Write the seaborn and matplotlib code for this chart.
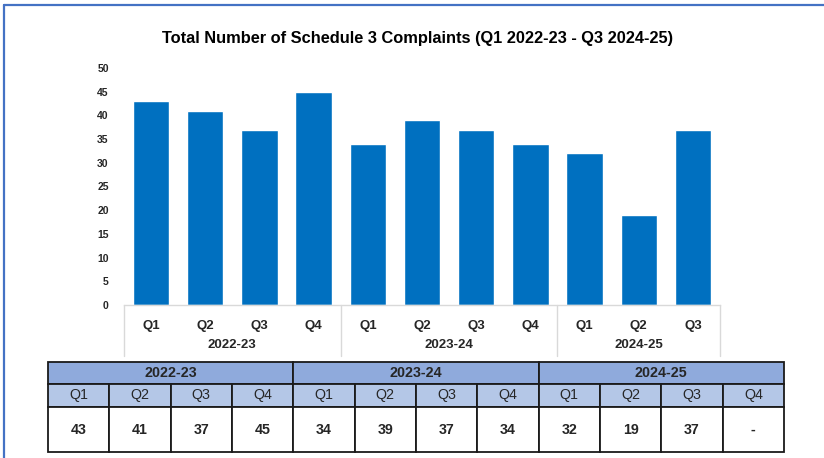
import matplotlib
matplotlib.use('Agg')
import matplotlib.pyplot as plt
import matplotlib.transforms as mtransforms
from matplotlib.patches import Rectangle
from matplotlib.lines import Line2D
import seaborn as sns
import pandas as pd

# data
years = ['2022-23', '2023-24', '2024-25']
quarters = ['Q1', 'Q2', 'Q3', 'Q4']
bar_years = ['2022-23'] * 4 + ['2023-24'] * 4 + ['2024-25'] * 3
bar_quarters = ['Q1', 'Q2', 'Q3', 'Q4', 'Q1', 'Q2', 'Q3', 'Q4', 'Q1', 'Q2', 'Q3']
complaints = [43, 41, 37, 45, 34, 39, 37, 34, 32, 19, 37]
table_values = ['43', '41', '37', '45', '34', '39', '37', '34', '32', '19', '37', '-']
title = 'Total Number of Schedule 3 Complaints (Q1 2022-23 - Q3 2024-25)'

sns.set_theme(style='white')
plt.rcParams['font.family'] = ['Liberation Sans', 'DejaVu Sans']

df = pd.DataFrame({'label': [y + ' ' + q for y, q in zip(bar_years, bar_quarters)],
                   'count': complaints})

W, H = 824, 458
fig = plt.figure(figsize=(W / 100, H / 100), dpi=100)

def px_axes(x0, y0, x1, y1):
    return fig.add_axes([x0 / W, 1 - y1 / H, (x1 - x0) / W, (y1 - y0) / H])

# frame around the chart (top and left edges visible)
fig.add_artist(Line2D([4 / W, 1], [1 - 5 / H, 1 - 5 / H], color='#4472C4', lw=1.6,
                      transform=fig.transFigure))
fig.add_artist(Line2D([4 / W, 4 / W], [0, 1 - 5 / H], color='#4472C4', lw=1.6,
                      transform=fig.transFigure))

fig.text(418 / W, 1 - 39 / H, title, ha='center', va='center',
         fontsize=11.8, fontweight='bold', color='black')

# bar chart
ax = px_axes(124, 68, 720, 305)
sns.barplot(data=df, x='label', y='count', color='#0070C0', width=0.67,
            saturation=1, ax=ax)
ax.set_ylim(0, 50)
ax.set_yticks(range(0, 51, 5))
ax.tick_params(axis='y', length=0, pad=11, labelsize=7.5)
for t in ax.get_yticklabels():
    t.set_fontweight('bold')
ax.set_xticks(range(len(bar_quarters)))
ax.set_xticklabels(bar_quarters, fontsize=9.5, fontweight='bold')
ax.tick_params(axis='x', length=0, pad=11)
ax.set_xlabel('')
ax.set_ylabel('')
for s in ['top', 'right', 'left']:
    ax.spines[s].set_visible(False)
ax.spines['bottom'].set_color('#D9D9D9')
ax.spines['bottom'].set_linewidth(1)

trans = mtransforms.blended_transform_factory(ax.transData, ax.transAxes)
start = 0
for yr in years:
    n = bar_years.count(yr)
    ax.text(start + (n - 1) / 2, -0.168, yr, transform=trans, ha='center', va='center',
            fontsize=9.5, fontweight='bold')
    start += n
for xs in [-0.5, 3.5, 7.5, 10.5]:
    ax.add_line(Line2D([xs, xs], [0, -0.215], transform=trans, color='#D9D9D9',
                       lw=1, clip_on=False))
ax.set_xlim(-0.5, len(bar_quarters) - 0.5)

# data table under the chart
tab = px_axes(48, 362, 784, 452)
tab.set_xlim(0, 12)
tab.set_ylim(90, 0)
tab.axis('off')
row_h = [22, 23, 45]
for i, yr in enumerate(years):
    tab.add_patch(Rectangle((i * 4, 0), 4, row_h[0], facecolor='#8FAADC',
                            edgecolor='#1a1a1a', lw=1.3, clip_on=False))
    tab.text(i * 4 + 2, row_h[0] / 2, yr, ha='center', va='center',
             fontsize=10.3, fontweight='bold')
for j in range(12):
    tab.add_patch(Rectangle((j, row_h[0]), 1, row_h[1], facecolor='#B4C7E7',
                            edgecolor='#1a1a1a', lw=1.3, clip_on=False))
    tab.text(j + 0.5, row_h[0] + row_h[1] / 2, quarters[j % 4], ha='center',
             va='center', fontsize=10.3)
    tab.add_patch(Rectangle((j, row_h[0] + row_h[1]), 1, row_h[2], facecolor='white',
                            edgecolor='#1a1a1a', lw=1.3, clip_on=False))
    tab.text(j + 0.5, row_h[0] + row_h[1] + row_h[2] / 2, table_values[j],
             ha='center', va='center', fontsize=10.3, fontweight='bold')

fig.savefig('out.png', dpi=100)
